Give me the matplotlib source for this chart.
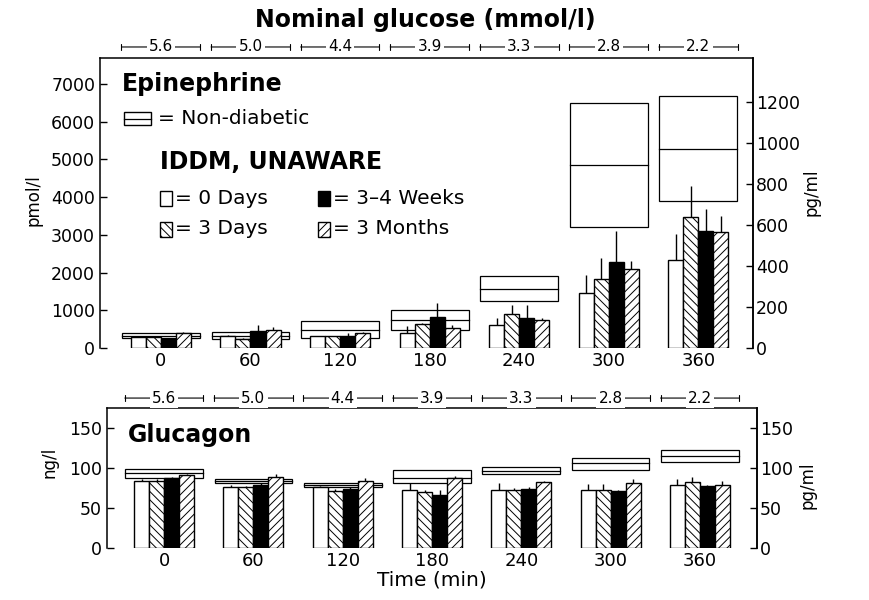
import numpy as np
import matplotlib
matplotlib.use('Agg')
from matplotlib import pyplot as plt
from matplotlib.patches import Rectangle
from matplotlib.transforms import blended_transform_factory

plt.rcParams['font.family'] = ['DejaVu Sans']
plt.rcParams['hatch.linewidth'] = 0.7

times = ['0', '60', '120', '180', '240', '300', '360']
glucose = ['5.6', '5.0', '4.4', '3.9', '3.3', '2.8', '2.2']

# epinephrine, pmol/l
epi_nd_mean = [330, 330, 490, 740, 1575, 4850, 5280]
epi_nd_low = [260, 250, 260, 470, 1250, 3210, 3900]
epi_nd_high = [400, 430, 710, 1000, 1900, 6490, 6690]
epi_0d = [300, 320, 310, 400, 620, 1465, 2330]
epi_3d = [300, 240, 310, 630, 895, 1830, 3470]
epi_34w = [230, 455, 330, 820, 800, 2290, 3090]
epi_3m = [390, 470, 400, 520, 750, 2100, 3065]
epi_0d_err = [20, 30, 20, 180, 170, 475, 705]
epi_3d_err = [20, 20, 20, 40, 235, 550, 820]
epi_34w_err = [20, 145, 60, 370, 330, 800, 590]
epi_3m_err = [40, 80, 20, 100, 40, 220, 435]

# glucagon, ng/l
glu_nd_mean = [94, 84, 79, 88, 96, 106, 115]
glu_nd_low = [88, 81, 76, 81, 92, 97.5, 108]
glu_nd_high = [99, 86, 81, 97.5, 101, 112, 122]
glu_0d = [84, 76, 76, 73, 73, 73, 79]
glu_3d = [84, 76, 71, 70, 73, 73, 82]
glu_34w = [87, 79, 74, 66, 74, 71, 77]
glu_3m = [91, 89, 84, 87, 82, 81, 79]
glu_0d_err = [2, 3, 2, 8, 8, 7, 7]
glu_3d_err = [2, 2, 3, 3, 2, 7, 7]
glu_34w_err = [2, 2, 2, 7, 2, 2, 2]
glu_3m_err = [2, 3, 4, 3, 2, 5, 5]

x = np.arange(len(times))
w = 0.168
ndw = 0.87
styles = [dict(color='white', hatch=None),
          dict(color='white', hatch='\\\\\\\\'),
          dict(color='black', hatch=None),
          dict(color='white', hatch='////')]

fig = plt.figure(figsize=(8.69, 6), dpi=100)
ax1 = fig.add_axes([100/869, 1-348/600, 653/869, 290/600])
ax2 = fig.add_axes([107/869, 1-548/600, 650/869, 140/600])

TICK = 12.5


def panel(ax, nd_mean, nd_low, nd_high, series, errs, ymax):
    for i in range(len(x)):
        ax.add_patch(Rectangle((x[i]-ndw/2, nd_low[i]), ndw, nd_high[i]-nd_low[i],
                               fill=False, lw=0.9, ec='k', zorder=1))
        ax.plot([x[i]-ndw/2, x[i]+ndw/2], [nd_mean[i]]*2, color='k', lw=0.9, zorder=1)
    for k, (vals, err) in enumerate(zip(series, errs)):
        pos = x + (k-1.5)*w
        ax.errorbar(pos, vals, yerr=[np.zeros(len(err)), err], fmt='none',
                    ecolor='k', elinewidth=1, capsize=0, zorder=1.5)
        ax.bar(pos, vals, width=w, facecolor=styles[k]['color'], hatch=styles[k]['hatch'],
               edgecolor='k', lw=1, zorder=2)
    ax.set_ylim(0, ymax)
    ax.set_xticks(x)
    ax.set_xticklabels(times, fontsize=13)
    ax.tick_params(axis='x', length=0, pad=3)
    ax.tick_params(axis='y', direction='in', length=5, labelsize=TICK, width=1)
    ax.spines['bottom'].set_visible(False)
    for s in ['left', 'right', 'top']:
        ax.spines[s].set_linewidth(1.1)


panel(ax1, epi_nd_mean, epi_nd_low, epi_nd_high,
      [epi_0d, epi_3d, epi_34w, epi_3m],
      [epi_0d_err, epi_3d_err, epi_34w_err, epi_3m_err], 7690)
ax1.set_xlim(-0.68, 6.61)
ax1.set_yticks(range(0, 7001, 1000))
sec1 = ax1.secondary_yaxis('right', functions=(lambda v: v/5.44, lambda v: v*5.44))
sec1.set_yticks(range(0, 1201, 200))
sec1.tick_params(direction='in', length=5, labelsize=TICK, width=1, pad=2)
sec1.spines['right'].set_linewidth(1.1)

panel(ax2, glu_nd_mean, glu_nd_low, glu_nd_high,
      [glu_0d, glu_3d, glu_34w, glu_3m],
      [glu_0d_err, glu_3d_err, glu_34w_err, glu_3m_err], 175)
ax2.set_xlim(-0.64, 6.64)
ax2.set_yticks([0, 50, 100, 150])
sec2 = ax2.secondary_yaxis('right')
sec2.set_yticks([0, 50, 100, 150])
sec2.tick_params(direction='in', length=5, labelsize=TICK, width=1, pad=2)
sec2.spines['right'].set_linewidth(1.1)


# glucose brackets above each panel
def brackets(ax, yfrac):
    tr = blended_transform_factory(ax.transData, ax.transAxes)
    for i, g in enumerate(glucose):
        ax.annotate('', xy=(i-0.44, yfrac), xytext=(i+0.44, yfrac), xycoords=tr,
                    textcoords=tr, annotation_clip=False,
                    arrowprops=dict(arrowstyle='|-|,widthA=0.2,widthB=0.2', lw=0.8,
                                    shrinkA=0, shrinkB=0))
        ax.text(i, yfrac, g, transform=tr, ha='center', va='center', fontsize=11,
                bbox=dict(facecolor='white', edgecolor='none', pad=1.5), clip_on=False)


brackets(ax1, 1.038)
brackets(ax2, 1.071)

fig.text(425/869, 1-20/600, 'Nominal glucose (mmol/l)', ha='center', va='center',
         fontsize=17, fontweight='bold')
fig.text(33/869, 1-200/600, 'pmol/l', rotation=90, ha='center', va='center', fontsize=12)
fig.text(812/869, 1-192/600, 'pg/ml', rotation=90, ha='center', va='center', fontsize=12)
fig.text(50/869, 1-462/600, 'ng/l', rotation=90, ha='center', va='center', fontsize=12)
fig.text(808/869, 1-485/600, 'pg/ml', rotation=90, ha='center', va='center', fontsize=12)
fig.text(432/869, 1-580/600, 'Time (min)', ha='center', va='center', fontsize=14.5)

fig.text(122/869, 1-84/600, 'Epinephrine', ha='left', va='center', fontsize=17, fontweight='bold')
fig.text(128/869, 1-435/600, 'Glucagon', ha='left', va='center', fontsize=17, fontweight='bold')


# legend in top panel (figure pixel coords)
def px(xp, yp):
    return xp/869, 1-yp/600


def key(xp, yp, wp, hp, fc, hatch=None, midline=False):
    x0, y0 = px(xp, yp+hp)
    r = Rectangle((x0, y0), wp/869, hp/600, transform=fig.transFigure, facecolor=fc,
                  edgecolor='k', lw=1, hatch=hatch)
    fig.add_artist(r)
    if midline:
        fig.add_artist(plt.Line2D([xp/869, (xp+wp)/869], [1-(yp+hp/2)/600]*2,
                                  transform=fig.transFigure, color='k', lw=0.9))


key(124, 112, 27, 13, 'white', midline=True)
fig.text(*px(158, 119), '= Non-diabetic', ha='left', va='center', fontsize=14.5)
fig.text(*px(160, 162), 'IDDM, UNAWARE', ha='left', va='center', fontsize=17, fontweight='bold')
key(160, 191, 12, 15, 'white')
fig.text(*px(175, 198), '= 0 Days', ha='left', va='center', fontsize=14.5)
key(160, 222, 12, 15, 'white', hatch='\\\\\\\\')
fig.text(*px(175, 229), '= 3 Days', ha='left', va='center', fontsize=14.5)
key(318, 191, 12, 15, 'black')
fig.text(*px(333, 198), '= 3\u20134 Weeks', ha='left', va='center', fontsize=14.5)
key(318, 222, 12, 15, 'white', hatch='////')
fig.text(*px(333, 229), '= 3 Months', ha='left', va='center', fontsize=14.5)

fig.savefig('out.png', dpi=100)
